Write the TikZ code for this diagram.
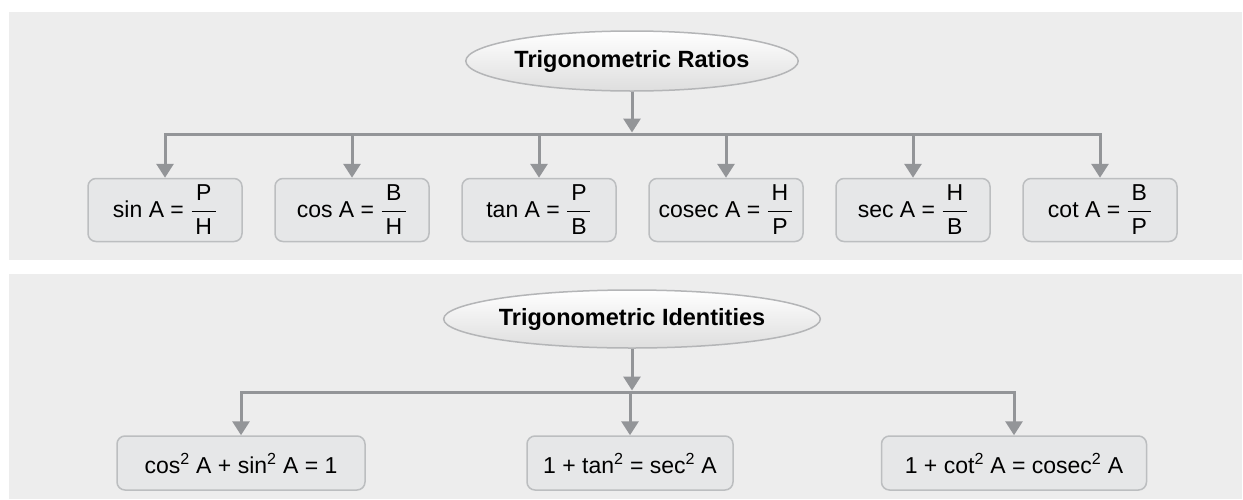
\documentclass[tikz,border=0pt]{standalone}
\usepackage{amsmath}
\usepackage{fontspec}
\setmainfont{Liberation Sans}
\usetikzlibrary{arrows.meta, shapes.geometric, positioning}
\definecolor{panel}{RGB}{237,237,237}
\definecolor{boxfill}{RGB}{230,231,232}
\definecolor{boxline}{RGB}{188,190,192}
\definecolor{arrowgray}{RGB}{147,149,152}
\definecolor{ovalline}{RGB}{180,181,183}
\newcommand{\ratiofrac}[2]{$\genfrac{}{}{1.5pt}{0}{\text{\,#1\,}}{\text{\,#2\,}}$}

\begin{document}
\begin{tikzpicture}[x=1pt, y=1pt,
        oval/.style={ellipse, draw=ovalline, line width=1.5pt, top color=white, bottom color=black!13, inner sep=0pt, font=\fontsize{23.5}{28}\selectfont\bfseries},
        ratiobox/.style={draw=boxline, fill=boxfill, line width=1.5pt, rounded corners=8pt, minimum width=154pt, minimum height=63pt, inner sep=0pt, font=\fontsize{23}{27}\selectfont},
        identbox/.style={ratiobox, minimum height=54pt},
        link/.style={draw=arrowgray, line width=3pt},
        linkhead/.style={-{Triangle[width=17pt,length=14pt]}}]
            \useasboundingbox (0,0) rectangle (1243,-499);
            \fill[panel] (9,-12) rectangle (1242,-260);
            \fill[panel] (9,-274) rectangle (1242,-499);

            \node[oval, minimum width=307pt, minimum height=60pt] (ratios) at (632,-61) {Trigonometric Ratios};
            \node[ratiobox] (sinr) at (165,-210) {sin A = \ratiofrac{P}{H}};
            \node[ratiobox] (cosr) at (352,-210) {cos A = \ratiofrac{B}{H}};
            \node[ratiobox] (tanr) at (539,-210) {tan A = \ratiofrac{P}{B}};
            \node[ratiobox] (cosecr) at (726,-210) {cosec A = \ratiofrac{H}{P}};
            \node[ratiobox] (secr) at (913,-210) {sec A = \ratiofrac{H}{B}};
            \node[ratiobox] (cotr) at (1100,-210) {cot A = \ratiofrac{B}{P}};
            \coordinate (rbar) at (632,-134);
            \draw[link, linkhead, shorten >=1.5pt] (ratios) -- (rbar);
            \foreach \b in {sinr,cosr,tanr,cosecr,secr,cotr}
                \draw[link, linkhead] (rbar) -| (\b.north);

            \node[oval, minimum width=315pt, minimum height=58pt] (identities) at (632,-319) {Trigonometric Identities};
            \node[identbox, minimum width=248pt] (sinid) at (241,-463) {cos\textsuperscript{2} A + sin\textsuperscript{2} A = 1};
            \node[identbox, minimum width=206pt] (tanid) at (630,-463) {1 + tan\textsuperscript{2} = sec\textsuperscript{2} A};
            \node[identbox, minimum width=265pt] (cotid) at (1014,-463) {1 + cot\textsuperscript{2} A = cosec\textsuperscript{2} A};
            \coordinate (ibar) at (632,-392);
            \draw[link, linkhead, shorten >=1.5pt] (identities) -- (ibar);
            \foreach \b in {sinid,tanid,cotid}
                \draw[link, linkhead] (ibar) -| (\b.north);
        \end{tikzpicture}
\end{document}
